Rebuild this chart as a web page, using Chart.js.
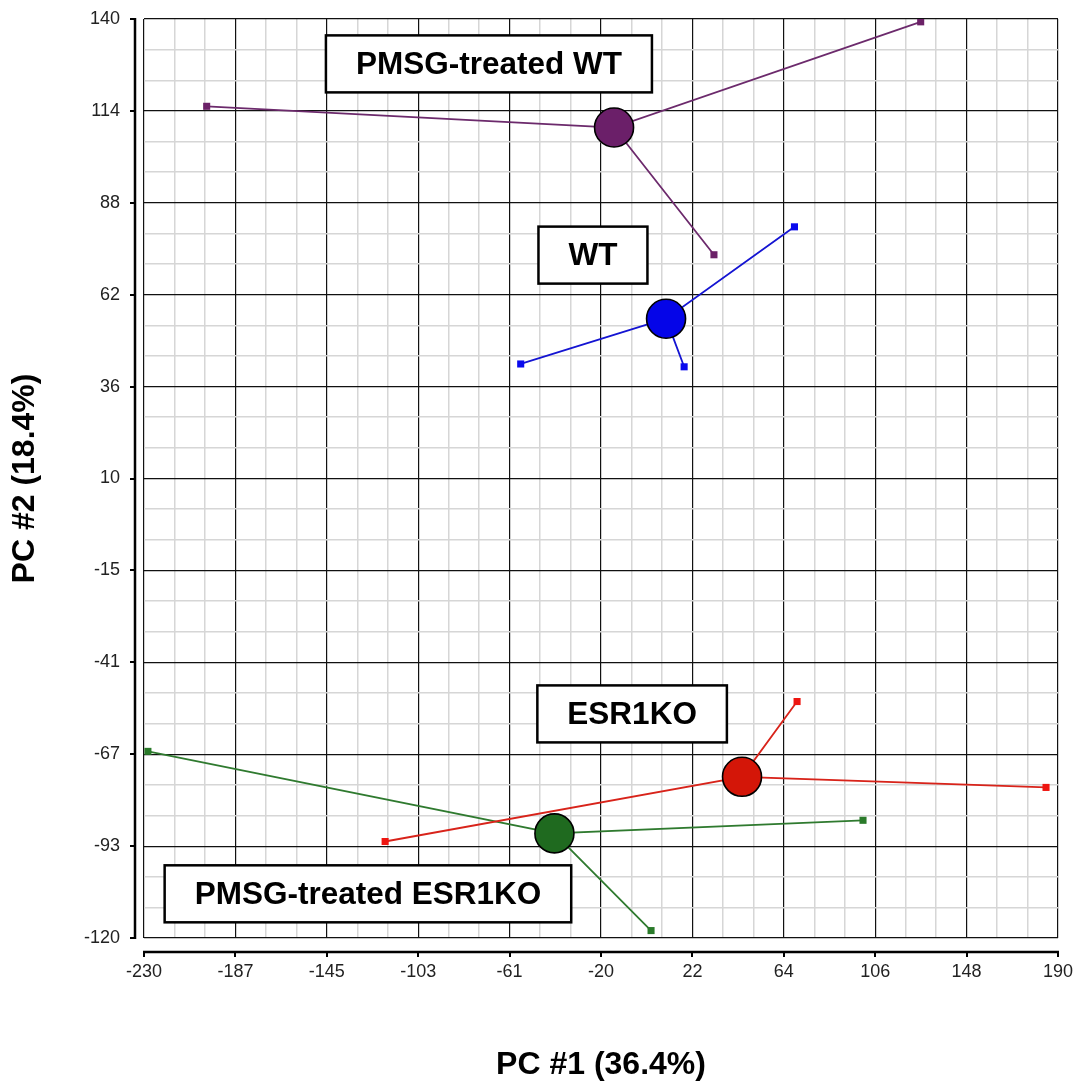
<!DOCTYPE html>
<html><head><meta charset="utf-8">
<script src="https://cdn.jsdelivr.net/npm/chart.js@4.4.1/dist/chart.umd.min.js"></script>
<style>html,body{margin:0;padding:0;background:#fff;} canvas{display:block;}</style>
</head><body>
<canvas id="c" width="1073" height="1084"></canvas>
<script>
// ---- data ----
const groupNames = ['PMSG-treated WT', 'WT', 'ESR1KO', 'PMSG-treated ESR1KO'];
// individual samples (3 per group)
const pmsgWtX = [-201.2, 31.9, 126.9];
const pmsgWtY = [115.3, 73.3, 139.2];
const wtX = [-56.9, 18.2, 68.9];
const wtY = [42.4, 41.6, 81.2];
const esr1koX = [-119.2, 70.1, 184.5];
const esr1koY = [-92.7, -53.1, -77.4];
const pmsgEsr1koX = [-228.2, 3.0, 100.4];
const pmsgEsr1koY = [-67.2, -117.9, -86.7];
// group centroids
const centroidX = [-14.0, 9.9, 44.8, -41.4];
const centroidY = [109.3, 55.2, -74.4, -90.4];
// axis ticks
const xTickValues = [-230, -188, -146, -104, -62, -20, 22, 64, 106, 148, 190];
const xTickLabels = ['-230', '-187', '-145', '-103', '-61', '-20', '22', '64', '106', '148', '190'];
const yTickValues = [140, 114, 88, 62, 36, 10, -16, -42, -68, -94, -120];
const yTickLabels = ['140', '114', '88', '62', '36', '10', '-15', '-41', '-67', '-93', '-120'];
// label box anchors (data units)
const labelX = [-71.5, -23.7, -5.7, -127.1];
const labelY = [127.3, 73.2, -56.6, -107.5];

// ---- styles ----
const FONT = '"Liberation Sans", Arial, Helvetica, sans-serif';
const centroidColors = ['#6b1f69', '#0505e8', '#d41608', '#1f6a1f'];
const lineColors = ['#6c2a6c', '#1414d2', '#d8231a', '#2f7a2f'];
const squareColors = ['#6b2167', '#0a0aee', '#ee1510', '#2a7a2a'];

const sampleX = [pmsgWtX, wtX, esr1koX, pmsgEsr1koX];
const sampleY = [pmsgWtY, wtY, esr1koY, pmsgEsr1koY];

function withMinors(majors) {
  const s = majors.slice().sort((a, b) => a - b);
  const out = [];
  for (let i = 0; i < s.length; i++) {
    out.push(s[i]);
    if (i < s.length - 1) {
      const d = (s[i + 1] - s[i]) / 3;
      out.push(s[i] + d, s[i] + 2 * d);
    }
  }
  return out;
}
function majorIndex(values, v) {
  return values.findIndex(m => Math.abs(m - v) < 1e-6);
}

const datasets = [];
groupNames.forEach((name, g) => {
  const c = { x: centroidX[g], y: centroidY[g] };
  const pts = [];
  for (let i = 0; i < 3; i++) {
    if (i > 0) pts.push({ x: c.x, y: c.y });
    pts.push({ x: sampleX[g][i], y: sampleY[g][i] });
    if (i === 0) pts.push({ x: c.x, y: c.y });
  }
  // connecting lines: p0, c, p1, c, p2
  datasets.push({
    label: name + ' links',
    data: pts,
    showLine: true,
    borderColor: lineColors[g],
    borderWidth: 1.8,
    pointRadius: 0,
    order: 3
  });
  // sample markers
  datasets.push({
    label: name + ' samples',
    data: sampleX[g].map((x, i) => ({ x, y: sampleY[g][i] })),
    showLine: false,
    pointStyle: 'rect',
    pointRadius: 5,
    pointBackgroundColor: squareColors[g],
    pointBorderColor: squareColors[g],
    pointBorderWidth: 0,
    order: 2
  });
});
datasets.push({
  label: 'centroids',
  data: centroidX.map((x, i) => ({ x, y: centroidY[i] })),
  showLine: false,
  pointStyle: 'circle',
  pointRadius: 19.5,
  pointBackgroundColor: centroidColors,
  pointBorderColor: '#000',
  pointBorderWidth: 1.6,
  order: 0
});

const detachedAxes = {
  id: 'detachedAxes',
  afterDraw(chart) {
    const { ctx, chartArea: { left, right, top, bottom }, scales: { x, y } } = chart;
    ctx.save();
    ctx.strokeStyle = '#000';
    ctx.lineCap = 'butt';
    const ax = left - 9, ay = bottom + 14;
    ctx.lineWidth = 2.5;
    ctx.beginPath();
    ctx.moveTo(ax, top - 1); ctx.lineTo(ax, bottom + 1);
    ctx.moveTo(left - 1, ay); ctx.lineTo(right + 1, ay);
    ctx.stroke();
    ctx.lineWidth = 2;
    ctx.beginPath();
    yTickValues.forEach(v => { const p = Math.round(y.getPixelForValue(v)); ctx.moveTo(ax - 5, p); ctx.lineTo(ax, p); });
    xTickValues.forEach(v => { const p = Math.round(x.getPixelForValue(v)); ctx.moveTo(p, ay); ctx.lineTo(p, ay + 5); });
    ctx.stroke();
    ctx.restore();
  }
};

const labelBoxes = {
  id: 'labelBoxes',
  beforeDatasetsDraw(chart) {
    const { ctx, scales: { x, y } } = chart;
    ctx.save();
    ctx.font = 'bold 31.5px ' + FONT;
    ctx.textAlign = 'center';
    ctx.textBaseline = 'middle';
    groupNames.forEach((t, i) => {
      const cx = x.getPixelForValue(labelX[i]);
      const cy = y.getPixelForValue(labelY[i]);
      const w = ctx.measureText(t).width + 60, h = 57;
      ctx.fillStyle = '#fff';
      ctx.fillRect(cx - w / 2, cy - h / 2, w, h);
      ctx.lineWidth = 2.5;
      ctx.strokeStyle = '#000';
      ctx.strokeRect(cx - w / 2, cy - h / 2, w, h);
      ctx.fillStyle = '#000';
      ctx.fillText(t, cx, cy + 1);
    });
    ctx.restore();
  }
};

const gridColor = (majors) => ctx => (ctx.tick && majorIndex(majors, ctx.tick.value) >= 0 ? '#111' : '#d6d6d6');
const gridWidth = (majors) => ctx => (ctx.tick && majorIndex(majors, ctx.tick.value) >= 0 ? 1.2 : 1.5);

new Chart(document.getElementById('c'), {
  type: 'scatter',
  data: { datasets },
  options: {
    responsive: false,
    devicePixelRatio: 1,
    animation: false,
    layout: { autoPadding: false, padding: { top: 19, right: 15, left: 0, bottom: 0 } },
    plugins: { legend: { display: false }, tooltip: { enabled: false } },
    scales: {
      x: {
        type: 'linear',
        min: -230, max: 190,
        afterBuildTicks: s => { s.ticks = withMinors(xTickValues).map(v => ({ value: v })); },
        afterFit: s => { s.height = 146; s.paddingLeft = 0; s.paddingRight = 0; s.paddingTop = 0; s.paddingBottom = 0; },
        border: { display: false },
        grid: { color: gridColor(xTickValues), lineWidth: gridWidth(xTickValues), drawTicks: false },
        ticks: {
          autoSkip: false, maxRotation: 0, minRotation: 0, padding: 23,
          color: '#222', font: { family: FONT, size: 18 },
          callback: v => { const k = majorIndex(xTickValues, v); return k >= 0 ? xTickLabels[k] : ''; }
        },
        title: {
          display: true, text: 'PC #1 (36.4%)', color: '#000',
          font: { family: FONT, size: 32, weight: 'bold' },
          padding: { top: 0, bottom: 0 }
        }
      },
      y: {
        type: 'linear',
        min: -120, max: 140,
        afterBuildTicks: s => { s.ticks = withMinors(yTickValues).map(v => ({ value: v })); },
        afterFit: s => { s.width = 144; s.paddingLeft = 0; s.paddingRight = 0; s.paddingTop = 0; s.paddingBottom = 0; },
        border: { display: false },
        grid: { color: gridColor(yTickValues), lineWidth: gridWidth(yTickValues), drawTicks: false },
        ticks: {
          autoSkip: false, padding: 24,
          color: '#222', font: { family: FONT, size: 18 },
          callback: v => { const k = majorIndex(yTickValues, v); return k >= 0 ? yTickLabels[k] : ''; }
        },
        title: {
          display: true, text: 'PC #2 (18.4%)', color: '#000',
          font: { family: FONT, size: 32, weight: 'bold' },
          padding: { top: 6, bottom: 0 }
        }
      }
    }
  },
  plugins: [detachedAxes, labelBoxes]
});
</script>
</body></html>
